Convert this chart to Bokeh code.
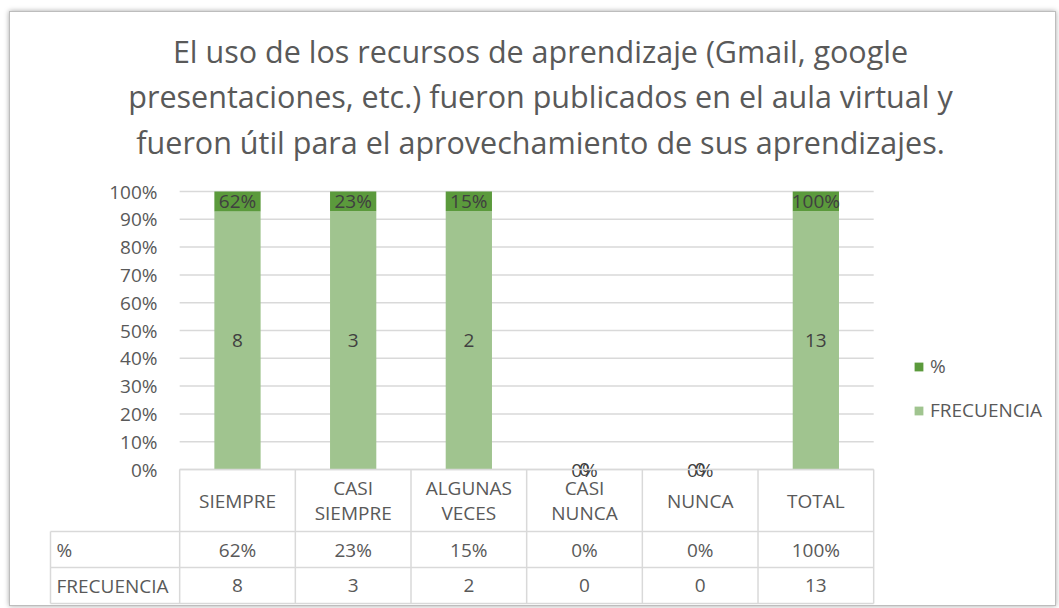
import numpy as np
from bokeh.plotting import figure
from bokeh.models import ColumnDataSource, Range1d, Legend, LegendItem
from bokeh.core.properties import value
from bokeh.embed import file_html
from bokeh.resources import INLINE

# ---------------- data ----------------
title_lines = ["El uso de los recursos de aprendizaje (Gmail, google",
               "presentaciones, etc.) fueron publicados en el aula virtual y",
               "fueron útil para el aprovechamiento de sus aprendizajes."]
categories = ["SIEMPRE", "CASI\nSIEMPRE", "ALGUNAS\nVECES", "CASI\nNUNCA", "NUNCA", "TOTAL"]
pct_values = [0.62, 0.23, 0.15, 0.00, 0.00, 1.00]
freq_values = [8, 3, 2, 0, 0, 13]
series_names = ["%", "FRECUENCIA"]
row_labels = ["%", "FRECUENCIA"]
y_ticks = [0.0, 0.1, 0.2, 0.3, 0.4, 0.5, 0.6, 0.7, 0.8, 0.9, 1.0]
y_tick_labels = ["0%", "10%", "20%", "30%", "40%", "50%", "60%", "70%", "80%", "90%", "100%"]

# ---------------- styling / layout ----------------
FONT = "Open Sans"
FS = "19px"
C_LIGHT = "#A0C48F"
C_DARK = "#5B9A3C"
C_TEXT = "#595959"
C_BAR_TEXT = "#404040"
C_LINE = "#D9D9D9"

CX, CY = 10, 12            # canvas offset on the page
W, H = 1045, 593           # canvas size
ORIGIN_X, X_PPU = 237.0, 115.67   # page x of first category, px per category
ORIGIN_Y, Y_PPU = 469.0, 278.0    # page y of 0 %, px per 100 %


def dx(px):
    return (px - ORIGIN_X) / X_PPU


def dy(py):
    return (ORIGIN_Y - py) / Y_PPU


# derived (100 % stacked shares)
idx = np.arange(len(categories), dtype=float)
pct = np.array(pct_values, dtype=float)
freq = np.array(freq_values, dtype=float)
tot = pct + freq
f_share = np.divide(freq, tot, out=np.zeros_like(tot), where=tot > 0)
p_share = np.divide(pct, tot, out=np.zeros_like(tot), where=tot > 0)
pct_text = [f"{round(v * 100)}%" for v in pct_values]
freq_text = [str(v) for v in freq_values]

src = ColumnDataSource(dict(
    x=idx, f_top=f_share, p_bottom=f_share, p_top=f_share + p_share,
    f_mid=f_share / 2, p_mid=f_share + p_share / 2,
    pct_text=pct_text, freq_text=freq_text, cat=categories,
))

p = figure(width=W, height=H, output_backend="svg", toolbar_location=None,
           x_range=Range1d(dx(CX), dx(CX + W)), y_range=Range1d(dy(CY + H), dy(CY)),
           x_axis_location=None, y_axis_location=None, min_border=0,
           outline_line_color=None, background_fill_color="white", border_fill_color="white",
           styles={"margin-left": f"{CX}px", "margin-top": f"{CY}px",
                   "outline": "1px solid #bdbdbd",
                   "box-shadow": "0 0 5px 1px rgba(0,0,0,0.35)"})
p.grid.visible = False

left_edge = idx[0] - 0.5
right_edge = idx[-1] + 0.5

# horizontal gridlines + y tick labels
n_t = len(y_ticks)
p.segment(x0=[left_edge] * n_t, y0=y_ticks, x1=[right_edge] * n_t, y1=y_ticks,
          line_color=C_LINE, line_width=1.5)
p.text(x=[dx(157)] * n_t, y=y_ticks, text=y_tick_labels, text_align="right",
       text_baseline="middle", text_font=value(FONT), text_font_size=FS,
       text_color=C_TEXT)

# bars
r_freq = p.vbar(x="x", bottom=0, top="f_top", width=0.4, source=src,
                fill_color=C_LIGHT, line_color=None)
r_pct = p.vbar(x="x", bottom="p_bottom", top="p_top", width=0.4, source=src,
               fill_color=C_DARK, line_color=None)

# bar labels
p.text(x="x", y="f_mid", text="freq_text", source=src, text_align="center",
       text_baseline="middle", text_font=value(FONT), text_font_size=FS,
       text_color=C_BAR_TEXT)
p.text(x="x", y="p_mid", text="pct_text", source=src, text_align="center",
       text_baseline="middle", text_font=value(FONT), text_font_size=FS,
       text_color=C_BAR_TEXT)

# data table
y_head, y_pct, y_freq = dy(531), dy(567), dy(603)
hx_left = dx(50)
bounds = list(idx - 0.5) + [right_edge]
p.segment(x0=bounds, y0=[0] * len(bounds), x1=bounds, y1=[y_freq] * len(bounds),
          line_color=C_LINE, line_width=1.5)
p.segment(x0=[hx_left], y0=[y_head], x1=[hx_left], y1=[y_freq],
          line_color=C_LINE, line_width=1.5)
p.segment(x0=[left_edge, hx_left, hx_left, hx_left], y0=[0, y_head, y_pct, y_freq],
          x1=[right_edge] * 4, y1=[0, y_head, y_pct, y_freq],
          line_color=C_LINE, line_width=1.5)

p.text(x="x", y=y_head / 2, text="cat", source=src, text_align="center",
       text_baseline="middle", text_font=value(FONT), text_font_size=FS,
       text_color=C_TEXT, text_line_height=0.95)
p.text(x="x", y=(y_head + y_pct) / 2, text="pct_text", source=src, text_align="center",
       text_baseline="middle", text_font=value(FONT), text_font_size=FS,
       text_color=C_TEXT)
p.text(x="x", y=(y_pct + y_freq) / 2, text="freq_text", source=src, text_align="center",
       text_baseline="middle", text_font=value(FONT), text_font_size=FS,
       text_color=C_TEXT)
p.text(x=[dx(56)] * 2, y=[(y_head + y_pct) / 2, (y_pct + y_freq) / 2], text=row_labels,
       text_align="left", text_baseline="middle", text_font=value(FONT),
       text_font_size=FS, text_color=C_TEXT)

# title
p.text(x=[dx(540)], y=[dy(96)], text=["\n".join(title_lines)], text_align="center",
       text_baseline="middle", text_font=value(FONT), text_font_size="30.5px",
       text_color=C_TEXT, text_line_height=1.08)

# legend (inside the frame, which covers the whole canvas)
legend = Legend(items=[LegendItem(label=series_names[0], renderers=[r_pct]),
                       LegendItem(label=series_names[1], renderers=[r_freq])],
                location=(913 - CX, CY + H - 423), orientation="vertical",
                glyph_width=11, glyph_height=11, label_standoff=6, spacing=18,
                padding=0, margin=0, border_line_color=None, background_fill_alpha=0,
                label_text_font=FONT, label_text_font_size=FS,
                label_text_color=C_TEXT, label_height=20)
p.add_layout(legend)

open("out.html", "w").write(file_html(p, INLINE))
